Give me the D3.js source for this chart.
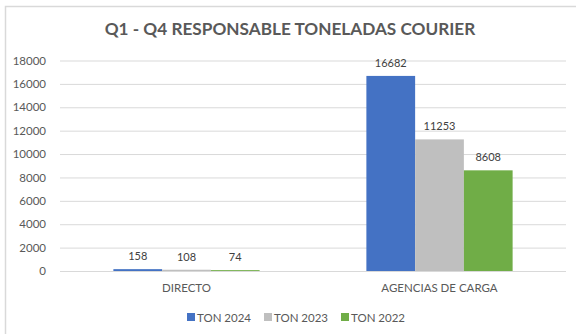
<!DOCTYPE html>
<html>
<head>
<meta charset="utf-8">
<script src="https://cdn.jsdelivr.net/npm/d3@7"></script>
<style>
  html, body { margin: 0; padding: 0; background: #fff; }
  svg { display: block; font-family: Lato, "Open Sans", sans-serif; }
</style>
</head>
<body>
<svg id="chart" width="576" height="334"></svg>
<script>
// Tonnage by channel, three years
const categories = ["DIRECTO", "AGENCIAS DE CARGA"];
const seriesNames = ["TON 2024", "TON 2023", "TON 2022"];
const ton2024 = [158, 16682];
const ton2023 = [108, 11253];
const ton2022 = [74, 8608];
const yTicks = [0, 2000, 4000, 6000, 8000, 10000, 12000, 14000, 16000, 18000];
const colors = ["#4472C4", "#BFBFBF", "#70AD47"];

const seriesValues = [ton2024, ton2023, ton2022];
const rows = categories.map((c, i) => ({
  category: c,
  values: seriesNames.map((s, j) => ({ series: s, value: seriesValues[j][i] }))
}));

const svg = d3.select("#chart");
const W = 576, H = 334;
const plot = { left: 60, right: 566, top: 60.5, bottom: 271 };

// Chart frame
svg.append("rect")
  .attr("x", 5.5).attr("y", 6.5)
  .attr("width", W).attr("height", H)
  .attr("fill", "#fff").attr("stroke", "#d9d9d9").attr("stroke-width", 1.5);

// Title
svg.append("text")
  .attr("x", 290).attr("y", 35)
  .attr("text-anchor", "middle")
  .attr("font-size", 17.2).attr("font-weight", 700)
  .attr("fill", "#595959")
  .text("Q1 - Q4 RESPONSABLE TONELADAS COURIER");

const y = d3.scaleLinear().domain([0, 18000]).range([plot.bottom, plot.top]);
const x0 = d3.scaleBand().domain(categories).range([plot.left, plot.right]).paddingInner(0).paddingOuter(0);
const groupWidth = x0.bandwidth() * 0.578;
const x1 = d3.scaleBand().domain(seriesNames).range([0, groupWidth]).padding(0);

// Gridlines and value axis
const yAxis = d3.axisLeft(y).tickValues(yTicks).tickSize(-(plot.right - plot.left)).tickPadding(14).tickFormat(d3.format("d"));
const gy = svg.append("g").attr("transform", `translate(${plot.left},0)`).call(yAxis);
gy.select(".domain").remove();
gy.selectAll(".tick line").attr("stroke", "#d9d9d9").attr("stroke-width", 1);
gy.selectAll(".tick text").attr("fill", "#595959").attr("font-size", 11.5)
  .attr("font-family", "Lato, sans-serif");

// Bars
const groups = svg.append("g").selectAll("g").data(rows).join("g")
  .attr("transform", d => `translate(${x0(d.category) + (x0.bandwidth() - groupWidth) / 2},0)`);

groups.selectAll("rect").data(d => d.values).join("rect")
  .attr("x", d => x1(d.series))
  .attr("y", d => y(d.value))
  .attr("width", x1.bandwidth())
  .attr("height", d => y(0) - y(d.value))
  .attr("fill", (d, i) => colors[i]);

// Data labels
groups.selectAll("text").data(d => d.values).join("text")
  .attr("x", d => x1(d.series) + x1.bandwidth() / 2)
  .attr("y", d => y(d.value) - 9)
  .attr("text-anchor", "middle")
  .attr("font-size", 11).attr("fill", "#404040")
  .text(d => d.value);

// Category axis
const gx = svg.append("g").attr("transform", `translate(0,${plot.bottom})`)
  .call(d3.axisBottom(x0).tickSize(0).tickPadding(13));
gx.select(".domain").remove();
gx.selectAll(".tick text").attr("fill", "#595959").attr("font-size", 11.5)
  .attr("font-family", "Lato, sans-serif");

// Legend
const legendX = [187, 264, 341];
const legend = svg.append("g").selectAll("g").data(seriesNames).join("g")
  .attr("transform", (d, i) => `translate(${legendX[i]},317)`);
legend.append("rect").attr("x", 0).attr("y", -4).attr("width", 8).attr("height", 8)
  .attr("fill", (d, i) => colors[i]);
legend.append("text").attr("x", 10).attr("y", 4.5)
  .attr("font-size", 11.5).attr("fill", "#595959").text(d => d);
</script>
</body>
</html>
